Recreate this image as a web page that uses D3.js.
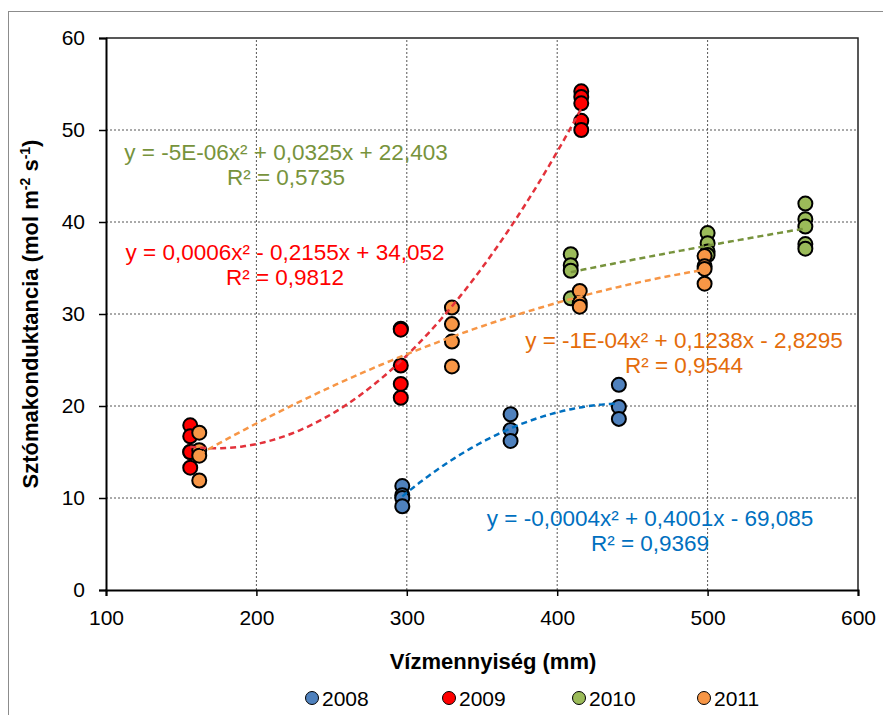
<!DOCTYPE html>
<html><head><meta charset="utf-8">
<script src="https://cdn.jsdelivr.net/npm/d3@7"></script>
<style>body{margin:0;background:#fff}svg{display:block;font-family:"Liberation Sans",Arial,sans-serif}</style>
</head><body><svg id="c" width="883" height="715"></svg>
<script>
// ---- data ----
const years = ["2008","2009","2010","2011"];
const x2008 = [297,297,297,297,369,369,369,441,441,441];
const y2008 = [11.3,10.3,10.0,9.1,19.1,17.4,16.2,22.3,19.9,18.6];
const x2009 = [156,156,156,156,156,296,296,296,296,296,416,416,416,416,416];
const y2009 = [17.9,16.7,15.0,15.0,13.3,28.4,28.3,24.4,22.4,20.9,54.2,53.6,52.9,51.0,50.0];
const x2010 = [409,409,409,409,500,500,500,500,565,565,565,565,565];
const y2010 = [36.5,35.3,34.7,31.7,38.8,37.7,36.8,36.4,42.0,40.3,39.5,37.6,37.1];
const x2011 = [162,162,162,162,330,330,330,330,415,415,415,498,498,498,498];
const y2011 = [17.1,15.2,14.6,11.9,30.7,28.9,27.0,24.3,32.5,31.2,30.8,36.3,35.2,34.9,33.3];
const eqText = [
  ["y = -0,0004x² + 0,4001x - 69,085","R² = 0,9369"],
  ["y = 0,0006x² - 0,2155x + 34,052","R² = 0,9812"],
  ["y = -5E-06x² + 0,0325x + 22,403","R² = 0,5735"],
  ["y = -1E-04x² + 0,1238x - 2,8295","R² = 0,9544"]
];
const xTicks = [100,200,300,400,500,600];
const yTicks = [0,10,20,30,40,50,60];

// ---- styles ----
const fills = ["#4F81BD","#FF0000","#9BBB59","#F79646"];
const lineCols = ["#0070C0","#E3323B","#77933C","#F79646"];
const eqCols = ["#0070C0","#FF0000","#77933C","#E46C0A"];
const eqPos = [[650,518],[285,252],[286,152],[684,340]];

const svg = d3.select("#c");
const X = d3.scaleLinear().domain([100,600]).range([106,858]);
const Y = d3.scaleLinear().domain([0,60]).range([590,38]);

// outer border
svg.append("rect").attr("x",8.5).attr("y",11.5).attr("width",900).attr("height",720)
  .attr("fill","none").attr("stroke","#8c8c8c").attr("stroke-width",1);

// gridlines
const g = svg.append("g");
g.selectAll(".gx").data(xTicks.slice(1,-1)).join("line")
  .attr("x1",d=>X(d)).attr("x2",d=>X(d)).attr("y1",Y(0)).attr("y2",Y(60))
  .attr("stroke","#555").attr("stroke-width",1).attr("stroke-dasharray","2,2");
g.selectAll(".gy").data(yTicks.slice(1,-1)).join("line")
  .attr("y1",d=>Y(d)).attr("y2",d=>Y(d)).attr("x1",X(100)).attr("x2",X(600))
  .attr("stroke","#555").attr("stroke-width",1).attr("stroke-dasharray","2,2");
// plot border top/right
svg.append("path").attr("d",`M${X(100)},${Y(60)}H${X(600)}V${Y(0)}`)
  .attr("fill","none").attr("stroke","#222").attr("stroke-width",1.5);

// axes
const ax = svg.append("g").attr("transform",`translate(0,${Y(0)})`)
  .call(d3.axisBottom(X).tickValues(xTicks).tickSize(6).tickPadding(14));
const ay = svg.append("g").attr("transform",`translate(${X(100)},0)`)
  .call(d3.axisLeft(Y).tickValues(yTicks).tickSize(7).tickPadding(14));
[ax,ay].forEach(a=>{
  a.select(".domain").attr("stroke","#000").attr("stroke-width",2);
  a.selectAll(".tick line").attr("stroke","#000").attr("stroke-width",1.5);
  a.selectAll(".tick text").attr("font-size",21).attr("fill","#000")
   .attr("font-family","Liberation Sans, Arial, sans-serif");
});

// quadratic least squares
function fitQuad(xs,ys){
  let S=[0,0,0,0,0],T=[0,0,0];
  xs.forEach((x,i)=>{let p=1;for(let k=0;k<5;k++){S[k]+=p;if(k<3)T[k]+=p*ys[i];p*=x;}});
  const A=[[S[0],S[1],S[2],T[0]],[S[1],S[2],S[3],T[1]],[S[2],S[3],S[4],T[2]]];
  for(let i=0;i<3;i++){for(let j=i+1;j<3;j++){const f=A[j][i]/A[i][i];for(let k=i;k<4;k++)A[j][k]-=f*A[i][k];}}
  const c=[0,0,0];
  for(let i=2;i>=0;i--){let s=A[i][3];for(let k=i+1;k<3;k++)s-=A[i][k]*c[k];c[i]=s/A[i][i];}
  return x=>c[0]+c[1]*x+c[2]*x*x;
}
const series = [[x2008,y2008],[x2009,y2009],[x2010,y2010],[x2011,y2011]];
const line = d3.line().x(d=>X(d[0])).y(d=>Y(d[1]));

// points first (trendlines drawn above, as in Excel)
const pts = svg.append("g");
series.forEach((s,i)=>{
  pts.append("g").selectAll("circle").data(s[0].map((x,j)=>[x,s[1][j]])).join("circle")
    .attr("cx",d=>X(d[0])).attr("cy",d=>Y(d[1])).attr("r",7)
    .attr("fill",fills[i]).attr("stroke","#000").attr("stroke-width",2);
});
series.forEach((s,i)=>{
  const f=fitQuad(s[0],s[1]);
  const x0=d3.min(s[0]),x1=d3.max(s[0]);
  const data=d3.range(0,101).map(k=>{const x=x0+(x1-x0)*k/100;return [x,f(x)];});
  svg.append("path").attr("d",line(data)).attr("fill","none")
    .attr("stroke",lineCols[i]).attr("stroke-width",2.5).attr("stroke-dasharray","6,4");
});

// equations
eqText.forEach((t,i)=>{
  const tx=svg.append("text").attr("fill",eqCols[i]).attr("font-size",22.5).attr("text-anchor","middle");
  tx.append("tspan").attr("x",eqPos[i][0]).attr("y",eqPos[i][1]+8).text(t[0]);
  tx.append("tspan").attr("x",eqPos[i][0]).attr("y",eqPos[i][1]+33).text(t[1]);
});

// axis titles
svg.append("text").attr("x",493).attr("y",669).attr("text-anchor","middle")
  .attr("font-size",22).attr("font-weight","bold").text("Vízmennyiség (mm)");
const yt=svg.append("text").attr("transform","translate(38,314) rotate(-90)").attr("text-anchor","middle")
  .attr("font-size",22).attr("font-weight","bold");
yt.append("tspan").text("Sztómakonduktancia (mol m");
yt.append("tspan").attr("font-size",14).attr("dy",-8).text("-2");
yt.append("tspan").attr("dy",8).text(" s");
yt.append("tspan").attr("font-size",14).attr("dy",-8).text("-1");
yt.append("tspan").attr("dy",8).text(")");

// legend
const legX=[312,449,579,704];
years.forEach((y,i)=>{
  svg.append("circle").attr("cx",legX[i]).attr("cy",698).attr("r",6.5)
    .attr("fill",fills[i]).attr("stroke","#000").attr("stroke-width",1);
  svg.append("text").attr("x",legX[i]+10).attr("y",706).attr("font-size",21).text(y);
});
</script></body></html>
